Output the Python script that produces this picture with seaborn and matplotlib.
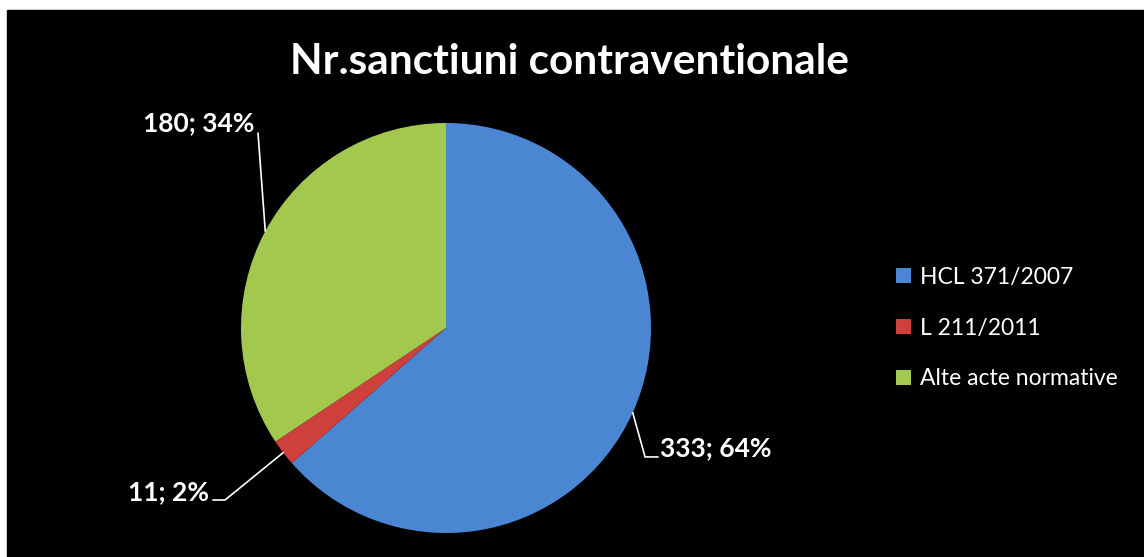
import numpy as np
import matplotlib
matplotlib.use("Agg")
import matplotlib.pyplot as plt
import matplotlib.patches as mpatches
import seaborn as sns

# Donnees
categories = ["HCL 371/2007", "L 211/2011", "Alte acte normative"]
values = [333, 11, 180]
percents = ["64%", "2%", "34%"]
title = "Nr.sanctiuni contraventionale"

sns.set_theme(style="dark")
plt.rcParams['font.family'] = ['Lato', 'DejaVu Sans']
palette = sns.color_palette(["#4a86d2", "#cf403c", "#a3c84e"])

W, H = 1144, 557
fig = plt.figure(figsize=(W / 100, H / 100), dpi=100, facecolor="white")
# fond noir avec bordure blanche
fig.patches.append(mpatches.Rectangle((7 / W, 0), 1 - 7 / W, (H - 10) / H,
                                      transform=fig.transFigure, color="black", zorder=-10))

cx, cy, r = 446, 328, 205
ax = fig.add_axes([(cx - r) / W, (H - cy - r) / H, 2 * r / W, 2 * r / H])
ax.set_facecolor("none")

wedges, _ = ax.pie(values, colors=palette, startangle=90, counterclock=False,
                   wedgeprops=dict(linewidth=0))
ax.set_xlim(-1, 1)
ax.set_ylim(-1, 1)
ax.set_aspect("equal")
ax.axis("off")

# Etiquettes avec lignes de rappel (offsets en unites du rayon)
label_style = [
    # (coude, fin, position texte, alignement)
    ((0.971, -0.629), (1.034, -0.629), (1.044, -0.585), "left"),
    ((-1.078, -0.839), (-1.137, -0.839), (-1.156, -0.80), "right"),
    (None, (-0.917, 0.951), (-0.937, 1.0), "right"),
]
for w, v, p, (elbow, end, tpos, ha) in zip(wedges, values, percents, label_style):
    ang = np.deg2rad((w.theta1 + w.theta2) / 2)
    start = (np.cos(ang), np.sin(ang))
    pts = [start] + ([elbow] if elbow else []) + [end]
    xs, ys = zip(*pts)
    ax.plot(xs, ys, color="white", linewidth=1.2, clip_on=False)
    ax.text(tpos[0], tpos[1], f"{v}; {p}", color="white", fontsize=19,
            fontweight="bold", ha=ha, va="center", clip_on=False)

fig.text(570 / W, 1 - 62 / H, title, color="white", fontsize=30.5,
         fontweight="bold", ha="center", va="center")

leg = fig.legend(wedges, categories, loc="center left",
                 bbox_to_anchor=(896 / W, 1 - 328 / H), frameon=False,
                 fontsize=16.5, labelcolor="white", handlelength=0.65,
                 handleheight=0.65, handletextpad=0.4, labelspacing=1.3,
                 borderpad=0, borderaxespad=0)

fig.savefig("out.png", dpi=100, facecolor="white")
